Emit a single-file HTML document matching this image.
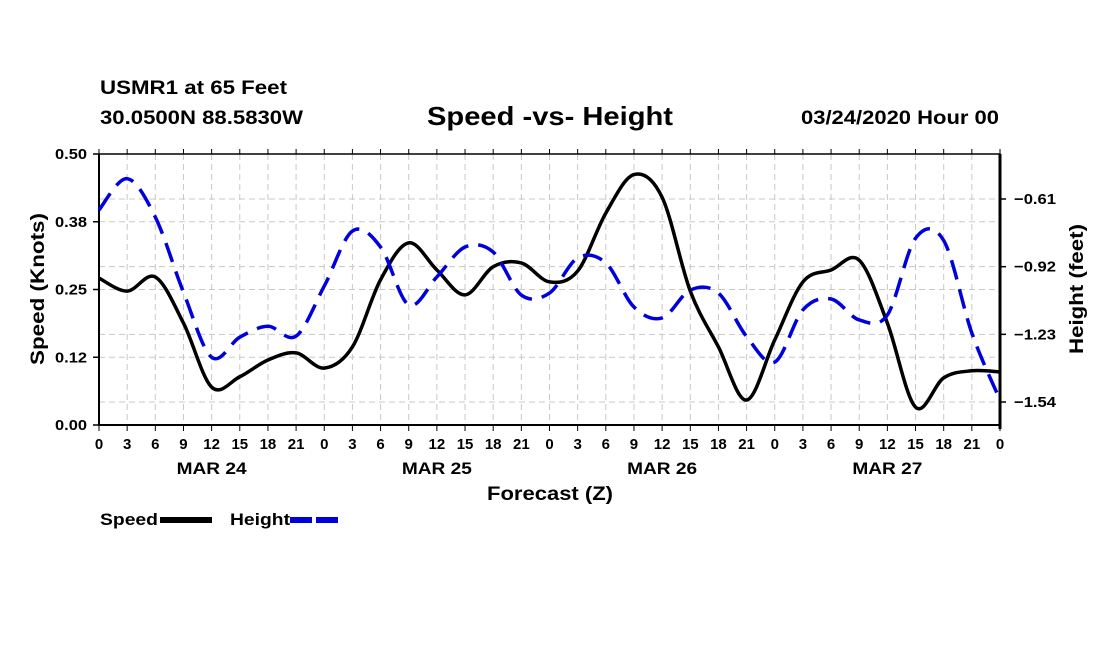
<!DOCTYPE html>
<html><head><meta charset="utf-8"><style>
body{margin:0;background:#fff;}
svg text{font-family:"Liberation Sans",Arial,sans-serif;font-weight:bold;fill:#000;}
</style></head><body>
<svg id="chart" width="1100" height="650" xmlns="http://www.w3.org/2000/svg">
<text x="100" y="94" font-size="19" textLength="187" lengthAdjust="spacingAndGlyphs">USMR1 at 65 Feet</text>
<text x="100" y="124" font-size="19" textLength="203" lengthAdjust="spacingAndGlyphs">30.0500N 88.5830W</text>
<text x="427" y="125" font-size="26" textLength="246" lengthAdjust="spacingAndGlyphs">Speed -vs- Height</text>
<text x="801" y="124" font-size="19" textLength="198" lengthAdjust="spacingAndGlyphs">03/24/2020 Hour 00</text>
<g id="grid"></g>
<g id="axes"></g>
<g id="series"></g>
<text transform="translate(44,289) rotate(-90)" font-size="19" text-anchor="middle" textLength="152" lengthAdjust="spacingAndGlyphs">Speed (Knots)</text>
<text transform="translate(1083,289) rotate(-90)" font-size="19" text-anchor="middle" textLength="130" lengthAdjust="spacingAndGlyphs">Height (feet)</text>
<text x="487" y="500" font-size="19" textLength="126" lengthAdjust="spacingAndGlyphs">Forecast (Z)</text>
<g>
<text x="100" y="525" font-size="17" textLength="58" lengthAdjust="spacingAndGlyphs">Speed</text>
<line x1="160" y1="520" x2="212" y2="520" stroke="#000" stroke-width="6"/>
</g>
<g>
<text x="230" y="525" font-size="17" textLength="60" lengthAdjust="spacingAndGlyphs">Height</text>
<line x1="290" y1="520" x2="342" y2="520" stroke="#0000dd" stroke-width="6" stroke-dasharray="22,4"/>
</g>
</svg>
<script>
const hours=[0,3,6,9,12,15,18,21,24,27,30,33,36,39,42,45,48,51,54,57,60,63,66,69,72,75,78,81,84,87,90,93,96];
const speed=[0.271,0.247,0.273,0.188,0.07,0.089,0.12,0.133,0.105,0.144,0.268,0.336,0.286,0.24,0.292,0.299,0.264,0.284,0.391,0.462,0.42,0.247,0.144,0.046,0.157,0.264,0.286,0.304,0.188,0.033,0.087,0.1,0.098];
const height=[-0.66,-0.517,-0.693,-1.037,-1.335,-1.243,-1.193,-1.238,-1.009,-0.757,-0.83,-1.095,-0.967,-0.83,-0.853,-1.05,-1.041,-0.88,-0.903,-1.105,-1.155,-1.027,-1.041,-1.24,-1.357,-1.118,-1.068,-1.164,-1.141,-0.79,-0.8,-1.224,-1.531];
const leftTicks=["0.00","0.12","0.25","0.38","0.50"];
const leftTickVals=[0,0.125,0.25,0.375,0.5];
const rightTicks=["\u22120.61","\u22120.92","\u22121.23","\u22121.54"];
const rightTickVals=[-0.61,-0.92,-1.23,-1.54];
const dayLabels=["MAR 24","MAR 25","MAR 26","MAR 27"];
const X0=99,X1=1000,Y0=154,Y1=425;
const xs=h=>X0+(h/96)*(X1-X0);
const yl=v=>Y1-(v/0.5)*(Y1-Y0);
const yr=v=>199+(-0.61-v)/0.31*67.67;
const NS="http://www.w3.org/2000/svg";
function mk(tag,attrs,parent){const e=document.createElementNS(NS,tag);for(const k in attrs)e.setAttribute(k,attrs[k]);parent.appendChild(e);return e;}
const grid=document.getElementById('grid'),axes=document.getElementById('axes'),series=document.getElementById('series');
for(let h=3;h<96;h+=3){const l=mk('line',{x1:xs(h),x2:xs(h),y1:Y0,y2:Y1,stroke:'#c8c8c8','stroke-dasharray':'6,4'},grid);

}
leftTickVals.concat(rightTickVals.map(v=>0.5*(Y1-yr(v))/(Y1-Y0))).forEach(v=>{const y=yl(v);const l=mk('line',{x1:X0,x2:X1,y1:y,y2:y,stroke:'#c8c8c8','stroke-dasharray':'6,4'},grid);

});
mk('rect',{x:X0,y:Y0,width:X1-X0,height:Y1-Y0,fill:'none',stroke:'#000','stroke-width':1.5},axes);
mk('line',{x1:X1,x2:X1,y1:Y0,y2:Y1+4,stroke:'#000','stroke-width':3},axes);
mk('line',{x1:X0,x2:X0,y1:Y0,y2:Y1,stroke:'#000','stroke-width':2},axes);
mk('line',{x1:X0,x2:X1,y1:Y1,y2:Y1,stroke:'#000','stroke-width':2},axes);
leftTickVals.forEach((v,i)=>{const y=yl(v);mk('line',{x1:X0-6,x2:X0,y1:y,y2:y,stroke:'#000','stroke-width':1.5},axes);
const t=mk('text',{x:X0-12,y:y+5,'font-size':15,'text-anchor':'end',textLength:32,lengthAdjust:'spacingAndGlyphs'},axes);t.textContent=leftTicks[i];

});
rightTickVals.forEach((v,i)=>{const y=yr(v);mk('line',{x1:X1,x2:X1+6,y1:y,y2:y,stroke:'#000','stroke-width':1.5},axes);
const t=mk('text',{x:X1+14,y:y+5,'font-size':15,textLength:42,lengthAdjust:'spacingAndGlyphs'},axes);t.textContent=rightTicks[i];

});
for(let h=0;h<=96;h+=3){const x=xs(h);mk('line',{x1:x,x2:x,y1:Y0-5,y2:Y0,stroke:'#000'},axes);mk('line',{x1:x,x2:x,y1:Y1,y2:Y1+6,stroke:'#000'},axes);
const t=mk('text',{x:x,y:449,'font-size':15,'text-anchor':'middle'},axes);t.textContent=String(h%24);

}
dayLabels.forEach((d,i)=>{const t=mk('text',{x:xs(i*24+12)-35,y:474,'font-size':17,textLength:70,lengthAdjust:'spacingAndGlyphs'},axes);t.textContent=d;

});
function smooth(pts){let d=`M${pts[0][0]},${pts[0][1]}`;for(let i=0;i<pts.length-1;i++){const p0=pts[Math.max(i-1,0)],p1=pts[i],p2=pts[i+1],p3=pts[Math.min(i+2,pts.length-1)];
d+=` C${p1[0]+(p2[0]-p0[0])/6},${p1[1]+(p2[1]-p0[1])/6} ${p2[0]-(p3[0]-p1[0])/6},${p2[1]-(p3[1]-p1[1])/6} ${p2[0]},${p2[1]}`;}return d;}
const sp=mk('path',{d:smooth(hours.map((h,i)=>[xs(h),yl(speed[i])])),fill:'none',stroke:'#000','stroke-width':3.5},series);


const hp=mk('path',{d:smooth(hours.map((h,i)=>[xs(h),yr(height[i])])),fill:'none',stroke:'#0000dd','stroke-width':3.5,'stroke-dasharray':'20,10'},series);


</script>
</body></html>
